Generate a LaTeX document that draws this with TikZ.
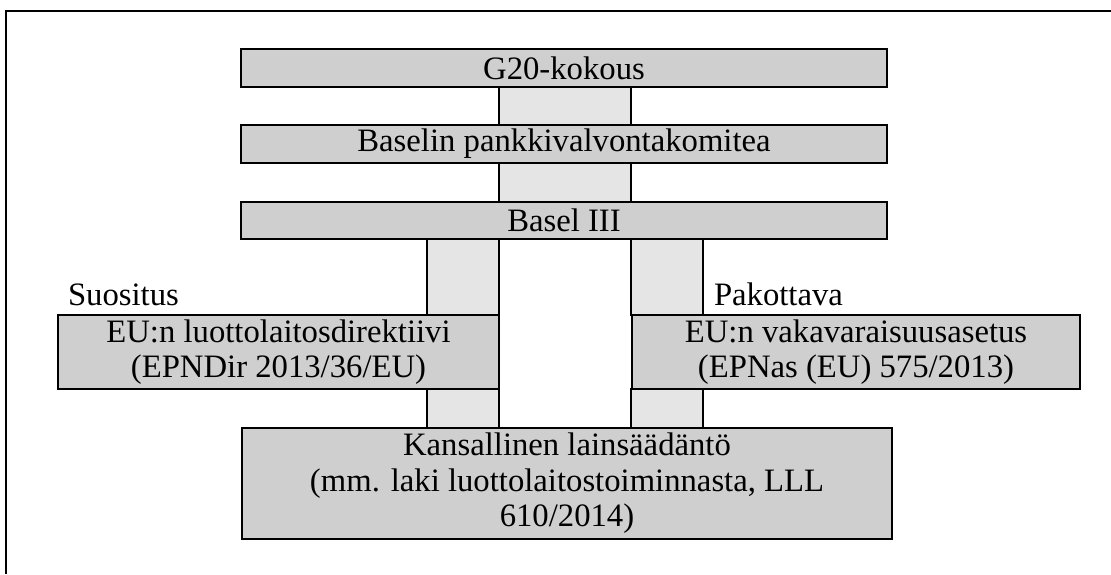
\documentclass[tikz,border=0pt]{standalone}
\usepackage{fontspec}
\setmainfont{Liberation Serif}
\definecolor{boxgrey}{RGB}{208,207,208}
\definecolor{pillargrey}{RGB}{229,229,229}
\tikzset{
  levelbox/.style={draw=black, fill=boxgrey, line width=1.3pt, align=center,
    font=\fontsize{32.7}{35.5}\selectfont, inner sep=0pt},
  pillar/.style={draw=black, fill=pillargrey, line width=1.3pt},
  sidelabel/.style={anchor=base west, font=\fontsize{32.7}{35.5}\selectfont, inner sep=0pt}
}
\begin{document}
\begin{tikzpicture}[y=1pt, x=1pt, yscale=-1, inner sep=0pt, outer sep=0pt]
\useasboundingbox (0,0) rectangle (1111,574);
\path[draw=black,line width=2pt] (6,574) -- (6,11) -- (1111,11);
\node[levelbox, minimum width=646pt, minimum height=38pt] (g20) at (564,68) {G20-kokous};
\node[levelbox, minimum width=646pt, minimum height=38pt] (bcbs) at (564,144) {Baselin pankkivalvontakomitea};
\node[levelbox, minimum width=646pt, minimum height=37pt] (basel) at (564,220.5) {Basel III};
\node[levelbox, minimum width=441pt, minimum height=74pt] (crd) at (278.5,352) {EU:n luottolaitosdirektiivi\\(EPNDir 2013/36/EU)};
\node[levelbox, minimum width=448pt, minimum height=74pt] (crr) at (856,352) {EU:n vakavaraisuusasetus\\(EPNas (EU) 575/2013)};
\node[levelbox, minimum width=650pt, minimum height=111pt] (nat) at (567,483.5) {Kansallinen lainsäädäntö\\(mm. laki luottolaitostoiminnasta, LLL\\610/2014)};
\node[sidelabel] (suositus) at (68,305) {Suositus};
\node[sidelabel] (pakottava) at (714,305) {Pakottava};
\coordinate (ml) at (499,0);
\coordinate (mr) at (631,0);
\coordinate (ll) at (427,0);
\coordinate (rr) at (703,0);
\path[pillar] (ml |- g20.south) rectangle (mr |- bcbs.north);
\path[pillar] (ml |- bcbs.south) rectangle (mr |- basel.north);
\path[pillar] (ll |- basel.south) rectangle (ml |- crd.north);
\path[pillar] (mr |- basel.south) rectangle (rr |- crr.north);
\path[pillar] (ll |- crd.south) rectangle (ml |- nat.north);
\path[pillar] (mr |- crr.south) rectangle (rr |- nat.north);
\end{tikzpicture}
\end{document}
